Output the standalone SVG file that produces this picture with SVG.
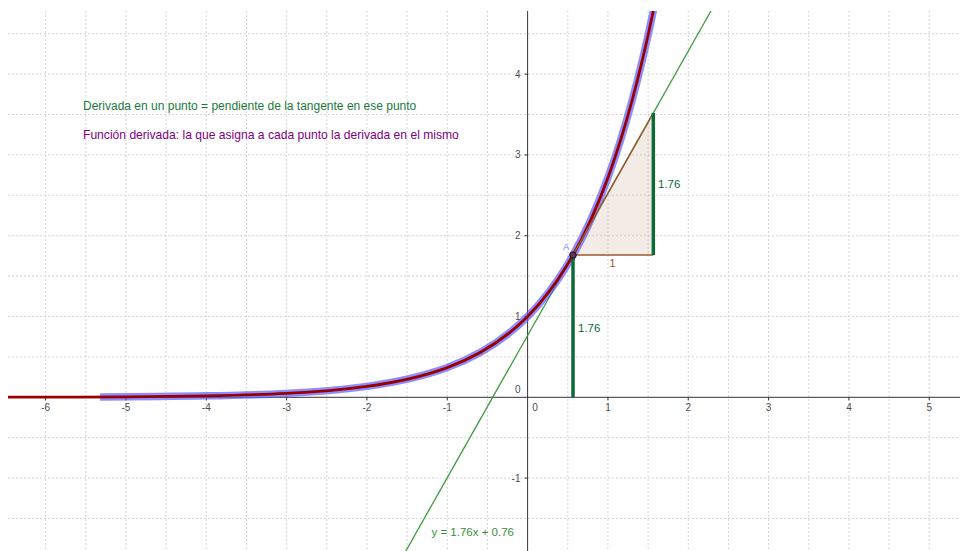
<svg xmlns="http://www.w3.org/2000/svg" width="960" height="551" viewBox="0 0 960 551">
<style>
.grid{stroke:#d6d6d6;stroke-width:1;stroke-dasharray:2 2;fill:none}
.axis{stroke:#333333;stroke-width:1;fill:none}
.lbl{font-family:"Liberation Sans",Arial,sans-serif;font-size:10px;fill:#4d4d4d}
.xl{text-anchor:middle}
.yl{text-anchor:end}
.txt{font-family:"Liberation Sans",Arial,sans-serif;font-size:12px}
.val{font-family:"Liberation Sans",Arial,sans-serif;font-size:11.5px}
.seg{stroke:#0d6b36;stroke-width:3.5;fill:none}
</style>
<defs>
<clipPath id="plot"><rect x="8" y="11" width="952" height="540"/></clipPath>
<clipPath id="trace"><rect x="100" y="11" width="860" height="540"/></clipPath>
</defs>
<rect width="960" height="551" fill="#ffffff"/>
<g id="grid" class="grid">
<path d="M45.62 11V551M85.79 11V551M125.95 11V551M166.12 11V551M206.28 11V551M246.45 11V551M286.61 11V551M326.78 11V551M366.94 11V551M407.11 11V551M447.27 11V551M487.44 11V551M567.77 11V551M607.93 11V551M648.1 11V551M688.26 11V551M728.43 11V551M768.59 11V551M808.76 11V551M848.92 11V551M889.09 11V551M929.25 11V551"/>
<path d="M8 33.7H960M8 74.1H960M8 114.5H960M8 154.9H960M8 195.3H960M8 235.7H960M8 276.1H960M8 316.5H960M8 356.9H960M8 437.7H960M8 478.1H960M8 518.5H960"/>
</g>
<g id="axes">
<path class="axis" d="M8 397.3H960M527.6 11V551"/>
<path class="axis" d="M45.62 397.3v3M125.95 397.3v3M206.28 397.3v3M286.61 397.3v3M366.94 397.3v3M447.27 397.3v3M607.93 397.3v3M688.26 397.3v3M768.59 397.3v3M848.92 397.3v3M929.25 397.3v3M527.6 74.1h-3M527.6 154.9h-3M527.6 235.7h-3M527.6 316.5h-3M527.6 478.1h-3"/>
<g class="lbl xl">
<text x="45.62" y="410.5">-6</text>
<text x="125.95" y="410.5">-5</text>
<text x="206.28" y="410.5">-4</text>
<text x="286.61" y="410.5">-3</text>
<text x="366.94" y="410.5">-2</text>
<text x="447.27" y="410.5">-1</text>
<text x="535" y="410.5">0</text>
<text x="607.93" y="410.5">1</text>
<text x="688.26" y="410.5">2</text>
<text x="768.59" y="410.5">3</text>
<text x="848.92" y="410.5">4</text>
<text x="929.25" y="410.5">5</text>
</g>
<g class="lbl yl">
<text x="520.5" y="77.6">4</text>
<text x="520.5" y="158.4">3</text>
<text x="520.5" y="239.2">2</text>
<text x="520.5" y="320">1</text>
<text x="520.5" y="393">0</text>
<text x="520.5" y="481.6">-1</text>
</g>
</g>
<g id="triangle-fill">
<polygon points="573.01,255.09 653.34,255.09 653.34,112.88" fill="#996633" fill-opacity="0.12" stroke="none"/>
</g>
<g id="tangent" clip-path="url(#plot)">
<line x1="405.86" y1="551" x2="710.95" y2="11" stroke="#3f9a3f" stroke-width="1.3"/>
</g>
<g id="curve" clip-path="url(#plot)">
<path id="trace-band" clip-path="url(#trace)" d="M8 397.17C74.09 397.07 140.19 397.04 206.28 395.82C259.83 394.83 313.39 393.65 366.94 386.36C393.72 382.72 420.49 377.49 447.27 367.58C474.05 357.67 500.82 343.43 527.6 316.5C540.99 303.03 554.38 286.28 567.77 264.08C581.16 241.88 594.54 214.27 607.93 177.66C623.05 136.32 638.17 83.71 653.29 11" fill="none" stroke="#5c5cff" stroke-opacity="0.7" stroke-width="7.5" stroke-linecap="round"/>
<path id="exp" d="M8 397.17C74.09 397.07 140.19 397.04 206.28 395.82C259.83 394.83 313.39 393.65 366.94 386.36C393.72 382.72 420.49 377.49 447.27 367.58C474.05 357.67 500.82 343.43 527.6 316.5C540.99 303.03 554.38 286.28 567.77 264.08C581.16 241.88 594.54 214.27 607.93 177.66C623.05 136.32 638.17 83.71 653.29 11" fill="none" stroke="#990000" stroke-width="2.8"/>
</g>
<g id="triangle">
<path d="M653.34 255.09H573.01L653.34 112.88" fill="none" stroke="#9b5a30" stroke-width="1.5"/>
<line class="seg" x1="653.34" y1="255.09" x2="653.34" y2="112.88"/>
<text class="val" x="609.2" y="267.3" fill="#9b5a30">1</text>
<text class="val" x="658" y="188.3" fill="#0d6b36">1.76</text>
</g>
<g id="height">
<line class="seg" x1="573.01" y1="255.09" x2="573.01" y2="397.3"/>
<text class="val" x="578" y="332.3" fill="#0d6b36">1.76</text>
</g>
<g id="pointA">
<circle cx="573.01" cy="255.09" r="3.2" fill="#663366" stroke="#111111" stroke-width="1"/>
<text x="563" y="250" font-family="'Liberation Sans',Arial,sans-serif" font-size="9.5px" fill="#8080ff">A</text>
</g>
<g id="equation">
<text class="val" x="431.5" y="536" fill="#3a8f3a">y = 1.76x + 0.76</text>
</g>
<g id="texts">
<text class="txt" x="83" y="110" fill="#1a7a3c">Derivada en un punto = pendiente de la tangente en ese punto</text>
<text class="txt" x="83" y="138.5" fill="#800080" style="font-size:12.1px">Función derivada: la que asigna a cada punto la derivada en el mismo</text>
</g>
</svg>
